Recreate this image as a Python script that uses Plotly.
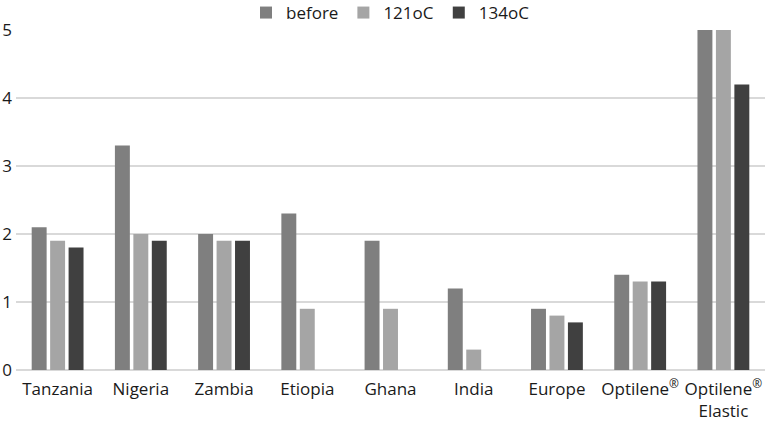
import plotly.graph_objects as go

categories = ["Tanzania", "Nigeria", "Zambia", "Etiopia", "Ghana", "India", "Europe",
              "Optilene<sup>®</sup>", "Optilene<sup>®</sup><br>Elastic"]
before = [2.1, 3.3, 2.0, 2.3, 1.9, 1.2, 0.9, 1.4, 5.0]
c121 = [1.9, 2.0, 1.9, 0.9, 0.9, 0.3, 0.8, 1.3, 5.0]
c134 = [1.8, 1.9, 1.9, None, None, None, 0.7, 1.3, 4.2]
series_names = ["before", "121oC", "134oC"]
colors = ["#7f7f7f", "#a5a5a5", "#404040"]

fig = go.Figure()
for name, vals, col in zip(series_names, [before, c121, c134], colors):
    fig.add_trace(go.Bar(x=categories, y=vals, name=name, marker_color=col,
                         marker_line_width=0))

font = "'Open Sans', Lato, 'Liberation Sans', sans-serif"
fig.update_layout(
    width=767, height=427,
    margin=dict(l=16, r=2, t=30, b=57, autoexpand=False),
    paper_bgcolor="white", plot_bgcolor="white",
    barmode="group", bargap=0.335, bargroupgap=0.19,
    font=dict(family=font, size=17, color="#1a1a1a"),
    legend=dict(orientation="h", x=0.5, xanchor="center", yref="paper",
                y=1.05, yanchor="middle",
                font=dict(size=17), itemwidth=30,
                traceorder="normal"),
    showlegend=True,
)
fig.update_yaxes(range=[0, 5], dtick=1, showgrid=True, gridcolor="#d9d9d9",
                 gridwidth=1.5, zeroline=True, zerolinecolor="#d9d9d9",
                 zerolinewidth=1.5, tickfont=dict(size=17), ticks="", ticklen=0,
                 showline=False, automargin=False, ticklabelstandoff=3)
fig.update_xaxes(showline=False, ticks="", tickfont=dict(size=17), automargin=False,
                 ticklabelstandoff=7)

fig.write_html("out.html", config={"displayModeBar": False},
               post_script="document.body.style.margin='0';")
